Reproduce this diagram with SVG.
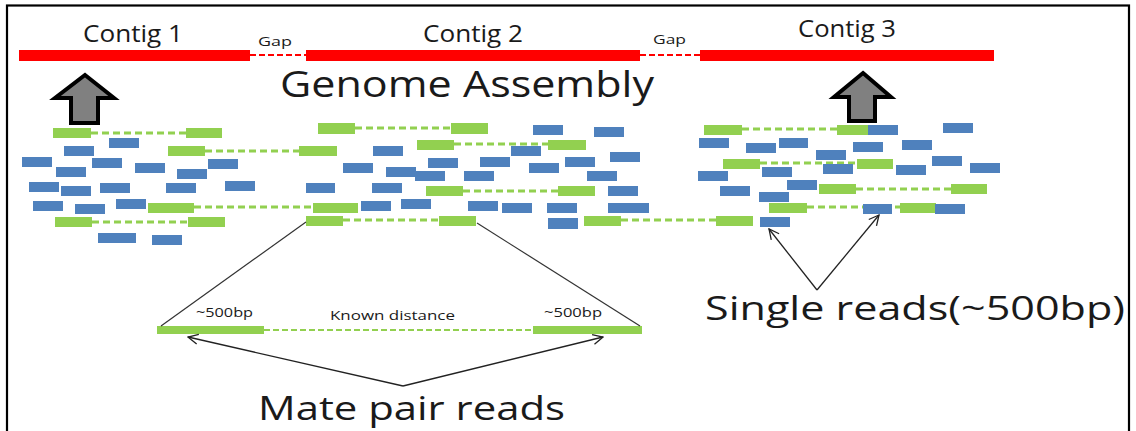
<svg xmlns="http://www.w3.org/2000/svg" width="1136" height="431" viewBox="0 0 1136 431">
<defs>
<style>
.t{font-family:"Open Sans","Liberation Sans",sans-serif;fill:#1a1a1a}
.g{fill:#92D050}
.b{fill:#4F81BD}
.gd{stroke:#92D050;stroke-width:3;stroke-dasharray:7 4;fill:none}
.md{stroke:#92D050;stroke-width:2;stroke-dasharray:6 3;fill:none}
.red{fill:#FF0000}
.rd{stroke:#FF0000;stroke-width:2;stroke-dasharray:6 3;fill:none}
.blk{fill:#808080;stroke:#000;stroke-width:4;stroke-linejoin:miter}
.ln{stroke:#333;stroke-width:1.2;fill:none}
.ar{stroke:#222;stroke-width:1.3;fill:none}
</style>
<marker id="oa" viewBox="0 0 12 12" refX="11" refY="6" markerWidth="12" markerHeight="12" markerUnits="userSpaceOnUse" orient="auto">
<path d="M1,1 L11,6 L1,11" fill="none" stroke="#222" stroke-width="1.3"/>
</marker>
</defs>
<rect width="1136" height="431" fill="#fff"/>
<rect x="7" y="5.5" width="1122" height="440" fill="none" stroke="#000" stroke-width="2.2"/>

<g id="contig1">
<rect class="red" x="19" y="50" width="231" height="11"/>
<text class="t" x="83" y="42" font-size="23" textLength="100" lengthAdjust="spacingAndGlyphs">Contig 1</text>
</g>
<g id="gap1">
<line class="rd" x1="250" y1="55" x2="306" y2="55"/>
<text class="t" x="258" y="46" font-size="13" textLength="34" lengthAdjust="spacingAndGlyphs">Gap</text>
</g>
<g id="contig2">
<rect class="red" x="306" y="50" width="334" height="11"/>
<text class="t" x="423" y="42" font-size="23" textLength="100" lengthAdjust="spacingAndGlyphs">Contig 2</text>
</g>
<g id="gap2">
<line class="rd" x1="640" y1="55" x2="700" y2="55"/>
<text class="t" x="653" y="44" font-size="13" textLength="33" lengthAdjust="spacingAndGlyphs">Gap</text>
</g>
<g id="contig3">
<rect class="red" x="700" y="50" width="294" height="11"/>
<text class="t" x="798" y="37" font-size="23" textLength="98" lengthAdjust="spacingAndGlyphs">Contig 3</text>
</g>

<g id="title">
<text class="t" x="280" y="97" font-size="37" textLength="374" lengthAdjust="spacingAndGlyphs">Genome Assembly</text>
</g>

<g id="arrow1">
<polygon class="blk" points="85,75 114,98 98,98 98,123 71,123 71,98 55,98"/>
</g>
<g id="arrow2">
<polygon class="blk" points="863,73 891,97 875,97 875,121 849,121 849,97 834,97"/>
</g>

<g id="reads-left">
<line class="gd" x1="91" y1="133" x2="186" y2="133"/>
<rect class="g" x="53" y="128" width="38" height="10"/>
<rect class="g" x="186" y="128" width="36" height="10"/>
<line class="gd" x1="205" y1="151" x2="299" y2="151"/>
<rect class="g" x="168" y="146" width="37" height="10"/>
<line class="gd" x1="194" y1="207" x2="313" y2="207"/>
<rect class="g" x="148" y="203" width="46" height="10"/>
<line class="gd" x1="92" y1="222" x2="188" y2="222"/>
<rect class="g" x="55" y="217" width="37" height="10"/>
<rect class="g" x="188" y="217" width="37" height="10"/>
<rect class="b" x="109" y="138" width="30" height="10"/>
<rect class="b" x="64" y="146" width="30" height="10"/>
<rect class="b" x="22" y="157" width="30" height="10"/>
<rect class="b" x="92" y="158" width="30" height="10"/>
<rect class="b" x="56" y="167" width="30" height="10"/>
<rect class="b" x="135" y="163" width="30" height="10"/>
<rect class="b" x="177" y="169" width="30" height="10"/>
<rect class="b" x="208" y="159" width="30" height="10"/>
<rect class="b" x="29" y="182" width="30" height="10"/>
<rect class="b" x="61" y="186" width="30" height="10"/>
<rect class="b" x="100" y="183" width="30" height="10"/>
<rect class="b" x="166" y="183" width="30" height="10"/>
<rect class="b" x="225" y="181" width="30" height="10"/>
<rect class="b" x="33" y="201" width="30" height="10"/>
<rect class="b" x="75" y="204" width="30" height="10"/>
<rect class="b" x="116" y="199" width="30" height="10"/>
<rect class="b" x="98" y="233" width="38" height="10"/>
<rect class="b" x="152" y="235" width="30" height="10"/>
</g>

<g id="reads-middle">
<rect class="g" x="299" y="146" width="38" height="10"/>
<rect class="g" x="313" y="203" width="45" height="10"/>
<line class="gd" x1="355" y1="128" x2="451" y2="128"/>
<rect class="g" x="318" y="123" width="37" height="11"/>
<rect class="g" x="451" y="123" width="37" height="11"/>
<line class="gd" x1="454" y1="144" x2="548" y2="144"/>
<rect class="g" x="417" y="140" width="37" height="10"/>
<rect class="g" x="548" y="140" width="38" height="10"/>
<line class="gd" x1="463" y1="191" x2="558" y2="191"/>
<rect class="g" x="426" y="186" width="37" height="10"/>
<rect class="g" x="558" y="186" width="37" height="10"/>
<line class="gd" x1="343" y1="220" x2="439" y2="220"/>
<rect class="g" x="306" y="216" width="37" height="10"/>
<rect class="g" x="439" y="216" width="37" height="10"/>
<line class="gd" x1="621" y1="220" x2="716" y2="220"/>
<rect class="g" x="584" y="216" width="37" height="10"/>
<rect class="b" x="533" y="125" width="30" height="10"/>
<rect class="b" x="594" y="127" width="30" height="10"/>
<rect class="b" x="373" y="146" width="30" height="10"/>
<rect class="b" x="511" y="146" width="30" height="10"/>
<rect class="b" x="428" y="158" width="30" height="10"/>
<rect class="b" x="480" y="157" width="30" height="10"/>
<rect class="b" x="565" y="157" width="30" height="10"/>
<rect class="b" x="610" y="152" width="30" height="10"/>
<rect class="b" x="343" y="163" width="30" height="10"/>
<rect class="b" x="386" y="167" width="30" height="10"/>
<rect class="b" x="415" y="171" width="30" height="10"/>
<rect class="b" x="464" y="171" width="30" height="10"/>
<rect class="b" x="529" y="163" width="30" height="10"/>
<rect class="b" x="587" y="171" width="30" height="10"/>
<rect class="b" x="306" y="183" width="29" height="10"/>
<rect class="b" x="372" y="183" width="30" height="10"/>
<rect class="b" x="608" y="186" width="30" height="10"/>
<rect class="b" x="361" y="201" width="30" height="10"/>
<rect class="b" x="401" y="199" width="30" height="10"/>
<rect class="b" x="468" y="201" width="30" height="10"/>
<rect class="b" x="502" y="203" width="30" height="10"/>
<rect class="b" x="547" y="203" width="30" height="10"/>
<rect class="b" x="608" y="203" width="41" height="10"/>
<rect class="b" x="548" y="218" width="30" height="11"/>
</g>

<g id="reads-right">
<rect class="g" x="716" y="216" width="37" height="10"/>
<line class="gd" x1="742" y1="129" x2="837" y2="129"/>
<rect class="g" x="704" y="125" width="38" height="10"/>
<rect class="g" x="837" y="125" width="31" height="10"/>
<rect class="b" x="868" y="125" width="30" height="10"/>
<line class="gd" x1="760" y1="163" x2="857" y2="163"/>
<rect class="g" x="723" y="159" width="37" height="10"/>
<rect class="g" x="857" y="159" width="36" height="10"/>
<line class="gd" x1="856" y1="189" x2="951" y2="189"/>
<rect class="g" x="819" y="184" width="37" height="10"/>
<rect class="g" x="951" y="184" width="36" height="10"/>
<line class="gd" x1="807" y1="207" x2="900" y2="207"/>
<rect class="g" x="769" y="203" width="38" height="10"/>
<rect class="g" x="900" y="203" width="36" height="10"/>
<rect class="b" x="943" y="123" width="30" height="10"/>
<rect class="b" x="699" y="138" width="30" height="10"/>
<rect class="b" x="746" y="143" width="30" height="10"/>
<rect class="b" x="779" y="138" width="29" height="10"/>
<rect class="b" x="853" y="142" width="30" height="10"/>
<rect class="b" x="902" y="140" width="30" height="10"/>
<rect class="b" x="816" y="150" width="30" height="10"/>
<rect class="b" x="932" y="156" width="30" height="10"/>
<rect class="b" x="970" y="163" width="30" height="10"/>
<rect class="b" x="698" y="171" width="30" height="10"/>
<rect class="b" x="762" y="167" width="30" height="10"/>
<rect class="b" x="823" y="164" width="30" height="10"/>
<rect class="b" x="896" y="165" width="30" height="10"/>
<rect class="b" x="720" y="186" width="30" height="10"/>
<rect class="b" x="787" y="180" width="30" height="10"/>
<rect class="b" x="759" y="192" width="30" height="10"/>
<rect class="b" x="863" y="204" width="29" height="10"/>
<rect class="b" x="935" y="204" width="30" height="10"/>
<rect class="b" x="760" y="217" width="30" height="10"/>
</g>

<g id="mate-pair">
<line class="md" x1="264" y1="330" x2="533" y2="330"/>
<rect class="g" x="157" y="326" width="107" height="8"/>
<rect class="g" x="533" y="326" width="109" height="8"/>
<text class="t" x="196" y="317" font-size="13" textLength="57" lengthAdjust="spacingAndGlyphs">~500bp</text>
<text class="t" x="544" y="317" font-size="13" textLength="58" lengthAdjust="spacingAndGlyphs">~500bp</text>
<text class="t" x="330" y="320" font-size="13" textLength="125" lengthAdjust="spacingAndGlyphs">Known distance</text>
</g>

<g id="connectors">
<line class="ln" x1="306" y1="222" x2="161" y2="326"/>
<line class="ln" x1="477" y1="223" x2="640" y2="326"/>
<line class="ar" x1="403" y1="386" x2="188" y2="337" marker-end="url(#oa)"/>
<line class="ar" x1="403" y1="386" x2="603" y2="337" marker-end="url(#oa)"/>
<line class="ar" x1="817" y1="290" x2="769" y2="229" marker-end="url(#oa)"/>
<line class="ar" x1="817" y1="290" x2="879" y2="215" marker-end="url(#oa)"/>
</g>

<g id="labels">
<text class="t" x="258" y="420" font-size="33" textLength="307" lengthAdjust="spacingAndGlyphs">Mate pair reads</text>
<text class="t" x="705" y="320" font-size="33" textLength="420" lengthAdjust="spacingAndGlyphs">Single reads(~500bp)</text>
</g>
</svg>
